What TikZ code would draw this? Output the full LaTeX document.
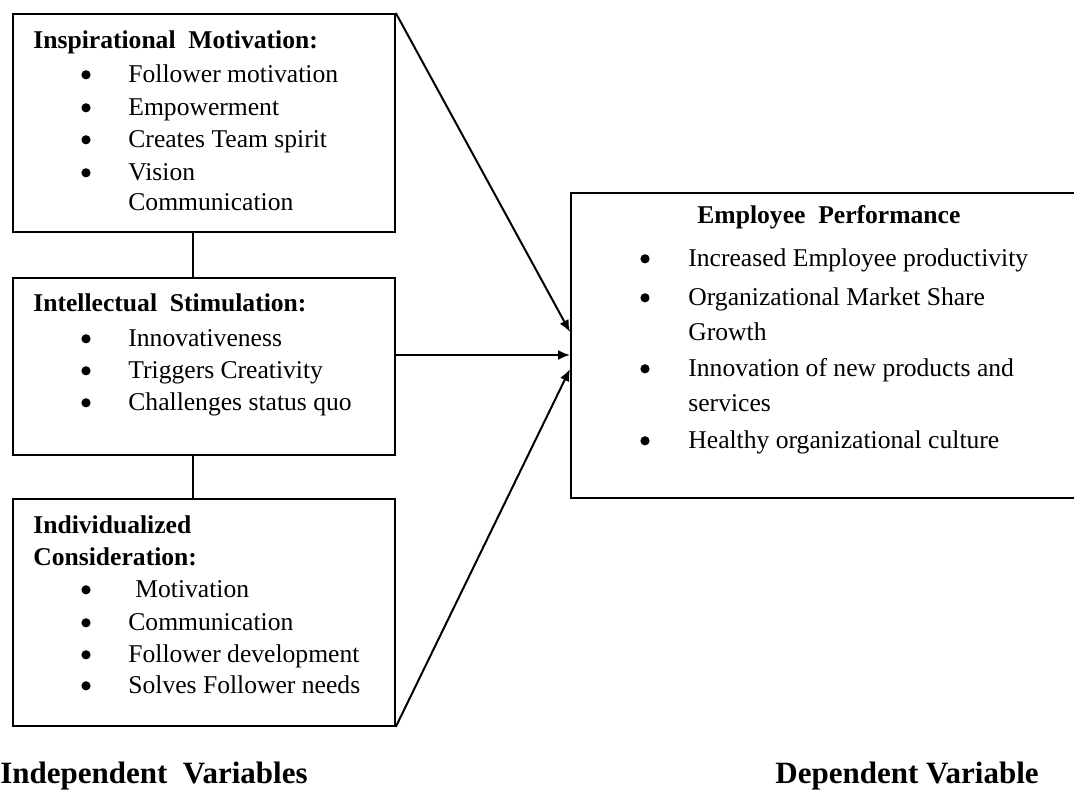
\documentclass[tikz,border=0pt]{standalone}
\usepackage{fontspec}
\setmainfont{Liberation Serif}
\usetikzlibrary{arrows.meta}
\tikzset{box/.style = {draw, line width = 0.9pt, inner sep = 0, anchor = north west}}
\tikzset{head/.style = {anchor = base west, inner sep = 0,
                        font = \fontsize{12.8}{14}\selectfont\bfseries}}
\tikzset{itm/.style = {anchor = base west, inner sep = 0,
                       font = \fontsize{12.8}{14}\selectfont}}
\tikzset{dot/.style = {fill, circle, inner sep = 0, minimum size = 4.6pt, yshift = 3.6pt}}
\tikzset{varlabel/.style = {anchor = base west, inner sep = 0,
                            font = \fontsize{15.5}{17}\selectfont\bfseries}}
\tikzset{link/.style = {line width = 1pt, -{Latex[length = 6pt, width = 5pt]}}}

\begin{document}
\begin{tikzpicture}[x = 0.5pt, y = -0.5pt]
      \useasboundingbox (0, 0) rectangle (1074, 789);

      % independent variables
      \node [box, minimum width = 191pt, minimum height = 109pt] (insp) at (12, 13) {};
      \node [box, minimum width = 191pt, minimum height = 88.5pt] (intel) at (12, 277) {};
      \node [box, minimum width = 191pt, minimum height = 113.5pt] (indiv) at (12, 498) {};

      \node [head] (insphead) at (33, 48) {Inspirational\ \ Motivation:};
      \node [dot] (inspb1) at (86, 82) {};
      \node [itm] (insp1) at (128, 82) {Follower motivation};
      \node [dot] (inspb2) at (86, 115) {};
      \node [itm] (insp2) at (128, 115) {Empowerment};
      \node [dot] (inspb3) at (86, 147) {};
      \node [itm] (insp3) at (128, 147) {Creates Team spirit};
      \node [dot] (inspb4) at (86, 180) {};
      \node [itm] (insp4) at (128, 180) {Vision};
      \node [itm] (insp5) at (128, 210) {Communication};

      \node [head] (intelhead) at (33, 311) {Intellectual\ \ Stimulation:};
      \node [dot] (intelb1) at (86, 346) {};
      \node [itm] (intel1) at (128, 346) {Innovativeness};
      \node [dot] (intelb2) at (86, 378) {};
      \node [itm] (intel2) at (128, 378) {Triggers Creativity};
      \node [dot] (intelb3) at (86, 410) {};
      \node [itm] (intel3) at (128, 410) {Challenges status quo};

      \node [head] (indivhead) at (33, 533) {Individualized};
      \node [head] (indivhead2) at (33, 565) {Consideration:};
      \node [dot] (indivb1) at (86, 597) {};
      \node [itm] (indiv1) at (135, 597) {Motivation};
      \node [dot] (indivb2) at (86, 630) {};
      \node [itm] (indiv2) at (128, 630) {Communication};
      \node [dot] (indivb3) at (86, 662) {};
      \node [itm] (indiv3) at (128, 662) {Follower development};
      \node [dot] (indivb4) at (86, 693) {};
      \node [itm] (indiv4) at (128, 693) {Solves Follower needs};

      \draw [line width = 0.9pt] ([xshift = -5.5pt] insp.south) -- ([xshift = -5.5pt] intel.north);
      \draw [line width = 0.9pt] ([xshift = -5.5pt] intel.south) -- ([xshift = -5.5pt] indiv.north);

      % dependent variable
      \node [box, minimum width = 254pt, minimum height = 152.5pt] (perf) at (570, 192) {};

      \node [head] (perfhead) at (697, 223) {Employee\ \ Performance};
      \node [dot] (perfb1) at (645, 266) {};
      \node [itm] (perf1) at (688, 266) {Increased Employee\ productivity};
      \node [dot] (perfb2) at (645, 305) {};
      \node [itm] (perf2) at (688, 305) {Organizational\ Market Share};
      \node [itm] (perf3) at (688, 340) {Growth};
      \node [dot] (perfb3) at (645, 376) {};
      \node [itm] (perf4) at (688, 376) {Innovation of new products\ and};
      \node [itm] (perf5) at (688, 411) {services};
      \node [dot] (perfb4) at (645, 448) {};
      \node [itm] (perf6) at (688, 448) {Healthy organizational culture};

      \coordinate (intop) at (570, 332);
      \coordinate (inmid) at (570, 355);
      \coordinate (inbot) at (570, 369);

      \draw [link] (insp.north east) -- (intop);
      \draw [link] (intel.east |- inmid) -- (inmid);
      \draw [link] (indiv.south east) -- (inbot);

      \node [varlabel] (indep) at (0, 783) {Independent\ \ Variables};
      \node [varlabel] (dep) at (775, 783) {Dependent Variable};
\end{tikzpicture}
\end{document}
